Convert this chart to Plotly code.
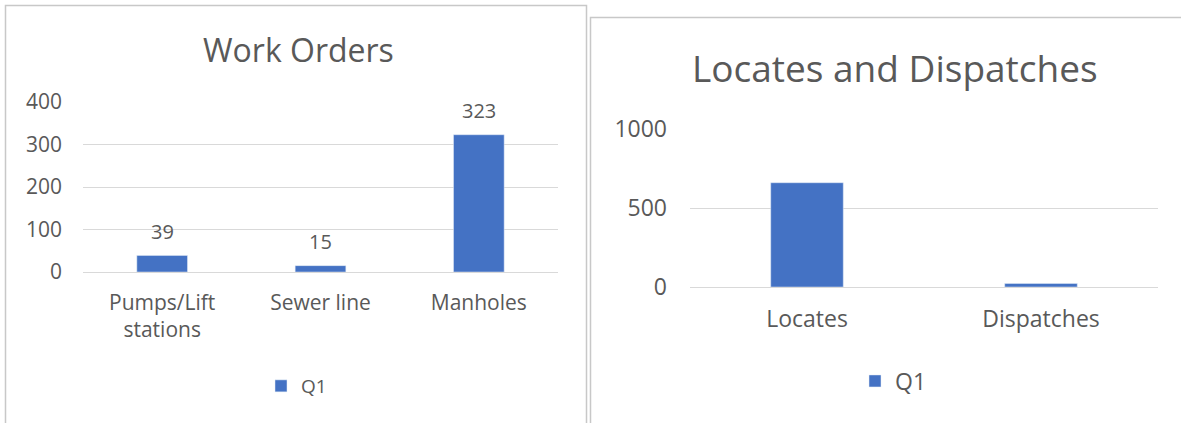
import plotly.graph_objects as go

W, H = 1181, 423

# ---- data ----
work_categories = ["Pumps/Lift stations", "Sewer line", "Manholes"]
work_ticktext = ["Pumps/Lift<br>stations", "Sewer line", "Manholes"]
work_q1 = [39, 15, 323]
work_yticks = [0, 100, 200, 300, 400]

loc_categories = ["Locates", "Dispatches"]
loc_q1 = [660, 22]
loc_yticks = [0, 500, 1000]

series_name = "Q1"
BLUE = "#4472C4"
TXT = "#595959"
GRID = "#d9d9d9"
FONT = "Open Sans"


def px(x):
    return x / W


def py(y):
    return 1 - y / H


fig = go.Figure()

fig.add_trace(go.Bar(
    x=work_categories, y=work_q1, name=series_name, marker_color=BLUE,
    width=0.32, xaxis="x", yaxis="y", legend="legend", hoverinfo="x+y",
))
fig.add_trace(go.Bar(
    x=loc_categories, y=loc_q1, name=series_name, marker_color=BLUE,
    width=0.31, xaxis="x2", yaxis="y2", legend="legend2", hoverinfo="x+y",
))

annotations = []
for c, v in zip(work_categories, work_q1):
    annotations.append(dict(
        x=c, y=v, xref="x", yref="y", text=str(v), showarrow=False,
        yanchor="middle", yshift=24, font=dict(family=FONT, size=20, color=TXT),
    ))

annotations.append(dict(
    x=px(298), y=py(49), xref="paper", yref="paper", text="Work Orders",
    showarrow=False, xanchor="center", yanchor="middle",
    font=dict(family=FONT, size=32, color=TXT),
))
annotations.append(dict(
    x=px(895), y=py(67), xref="paper", yref="paper", text="Locates and Dispatches",
    showarrow=False, xanchor="center", yanchor="middle",
    font=dict(family=FONT, size=37, color=TXT),
))

shapes = [
    dict(type="rect", xref="paper", yref="paper",
         x0=px(5.5), x1=px(586.5), y0=py(440), y1=py(5.5),
         line=dict(color="#c8c8c8", width=1.5), fillcolor="rgba(0,0,0,0)", layer="below"),
    dict(type="rect", xref="paper", yref="paper",
         x0=px(590.5), x1=px(1200), y0=py(440), y1=py(17.5),
         line=dict(color="#c8c8c8", width=1.5), fillcolor="rgba(0,0,0,0)", layer="below"),
]

common_x = dict(type="category", showgrid=False, showline=False, zeroline=False,
                ticks="", color=TXT, automargin=False)
common_y = dict(showgrid=True, gridcolor=GRID, gridwidth=1, showline=False,
                zeroline=True, zerolinecolor=GRID, zerolinewidth=1, ticks="", color=TXT,
                automargin=False)

fig.update_layout(
    width=W, height=H,
    margin=dict(l=0, r=0, t=0, b=0, autoexpand=False),
    paper_bgcolor="white", plot_bgcolor="white",
    font=dict(family=FONT, color=TXT),
    bargap=0.68,
    xaxis=dict(**common_x, domain=[px(83), px(558)], anchor="y",
               categoryorder="array", categoryarray=work_categories,
               tickvals=work_categories, ticktext=work_ticktext,
               tickfont=dict(family=FONT, size=21, color=TXT), ticklabelstandoff=16),
    yaxis=dict(**common_y, domain=[py(272), py(102)], anchor="x",
               range=[0, 400], tickvals=work_yticks,
               tickfont=dict(family=FONT, size=21, color=TXT), ticklabelstandoff=20),
    xaxis2=dict(**common_x, domain=[px(690), px(1158)], anchor="y2",
                categoryorder="array", categoryarray=loc_categories,
                tickfont=dict(family=FONT, size=23, color=TXT), ticklabelstandoff=16),
    yaxis2=dict(**common_y, domain=[py(287), py(129)], anchor="x2",
                range=[0, 1000], tickvals=loc_yticks,
                tickfont=dict(family=FONT, size=23, color=TXT), ticklabelstandoff=22),
    legend=dict(x=px(261), y=py(386), xanchor="left", yanchor="middle",
                orientation="h", bgcolor="rgba(0,0,0,0)",
                font=dict(family=FONT, size=19, color=TXT)),
    legend2=dict(x=px(855), y=py(381), xanchor="left", yanchor="middle",
                 orientation="h", bgcolor="rgba(0,0,0,0)",
                 font=dict(family=FONT, size=23, color=TXT)),
    annotations=annotations,
    shapes=shapes,
    showlegend=True,
)

fig.write_html(
    "out.html",
    config={"displayModeBar": False},
    post_script="document.body.style.margin='0';document.body.style.padding='0';",
)
